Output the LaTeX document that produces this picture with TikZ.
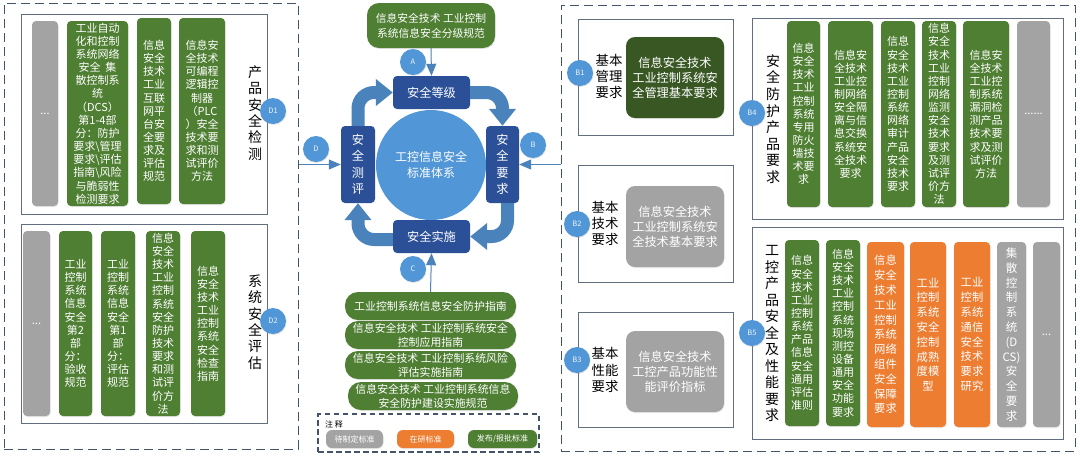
\documentclass[tikz,border=0pt]{standalone}
\usepackage{fontspec}
\setmainfont{Noto Sans CJK SC}
\usetikzlibrary{arrows.meta,shadows,calc}
\definecolor{gn}{HTML}{4F7F33}
\definecolor{dgn}{HTML}{385723}
\definecolor{gy}{HTML}{A3A3A3}
\definecolor{or}{HTML}{ED7D31}
\definecolor{dbl}{HTML}{2B5097}
\definecolor{mbl}{HTML}{5196D6}
\definecolor{abl}{HTML}{4A83BC}
\definecolor{frame}{HTML}{44546A}
\tikzset{
 card/.style={rounded corners=4pt,inner sep=0pt,align=center,text=white,
   font=\fontsize{11}{13.15}\selectfont,
   drop shadow={shadow xshift=0.6pt,shadow yshift=-1pt,opacity=.18}},
 greencard/.style={card,fill=gn},
 darkcard/.style={card,fill=dgn,rounded corners=9pt,font=\fontsize{12.2}{15}\selectfont},
 graycard/.style={card,fill=gy},
 orangecard/.style={card,fill=or,font=\fontsize{11.3}{14.8}\selectfont},
 greybig/.style={card,fill=gy,rounded corners=9pt,font=\fontsize{12.2}{15}\selectfont},
 stdpill/.style={card,fill=gn,rounded corners=13pt,font=\fontsize{10.9}{14.2}\selectfont},
 stdtop/.style={stdpill,rounded corners=12pt,font=\fontsize{10.8}{15}\selectfont},
 legpill/.style={card,rounded corners=6pt,font=\fontsize{8}{9}\selectfont},
 phase/.style={rounded corners=4pt,fill=dbl,inner sep=0pt,align=center,text=white,font=\fontsize{12.2}{16.5}\selectfont},
 outer/.style={draw=frame,line width=1pt,dash pattern=on 9pt off 5pt,inner sep=0pt},
 legframe/.style={draw=frame,line width=1.3pt,dash pattern=on 5.5pt off 3.5pt,inner sep=0pt},
 inner/.style={draw=frame!85,line width=0.8pt,fill=white,inner sep=0pt},
 hlabel/.style={align=center,text=black,inner sep=0pt,font=\fontsize{14}{16.4}\selectfont},
 blabel/.style={align=center,text=black,inner sep=0pt,font=\fontsize{13.4}{16.2}\selectfont},
 badge/.style={circle,fill=mbl,minimum size=26pt,inner sep=0pt,text=white!90!mbl,font=\fontsize{7.5}{9}\selectfont,
   drop shadow={shadow xshift=0.6pt,shadow yshift=-1pt,opacity=.2}},
 bigarrow/.style={draw=abl,line width=13pt,rounded corners=16pt,-{Triangle[width=26pt,length=17pt]}},
 feed/.style={draw=abl,line width=1pt,-{Triangle[width=10pt,length=12pt]}},
}
% name, style, x1, y1, x2, y2, text
\newcommand{\bx}[7]{\node[#2,minimum width={(#5-#3)*1pt},minimum height={(#6-#4)*1pt}] (#1) at ({(#3+#5)/2},{-(#4+#6)/2}) {#7};}
\begin{document}
\begin{tikzpicture}[x=1pt,y=1pt]
\useasboundingbox (0,0) rectangle (1080,-459);
\fill[white] (0,0) rectangle (1080,-459);
% outer frames
\bx{leftOuter}{outer}{4}{3}{298}{449}{}
\bx{rightOuter}{outer}{561}{5}{1075}{451}{}
\bx{legend}{legframe}{318}{414}{539}{452}{}
% D1
\bx{d1box}{inner}{21}{14}{267}{214}{}
\bx{d1a}{graycard}{32}{21}{58}{206}{...}
\bx{d1b}{greencard}{67}{21}{128}{206}{工业自动\\化和控制\\系统网络\\安全\ \ 集\\散控制系\\统\\（DCS）\\第1-4部\\分：防护\\要求\textbackslash 管理\\要求\textbackslash 评估\\指南\textbackslash 风险\\与脆弱性\\检测要求}
\bx{d1c}{greencard}{137}{18}{171}{204}{信息\\安全\\技术\\工业\\互联\\网平\\台安\\全要\\求及\\评估\\规范}
\bx{d1d}{greencard}{179}{18}{225}{204}{信息安\\全技术\\可编程\\逻辑控\\制器\\（PLC\\）安全\\技术要\\求和测\\试评价\\方法}
\node[hlabel] (d1lab) at (255,-113) {产\\品\\安\\全\\检\\测};
% D2
\bx{d2box}{inner}{21}{224}{267}{423}{}
\bx{d2a}{graycard}{23}{231}{50}{416}{...}
\bx{d2b}{greencard}{59}{231}{92}{416}{工业\\控制\\系统\\信息\\安全\\第2\\部\\分：\\验收\\规范}
\bx{d2c}{greencard}{101}{231}{135}{416}{工业\\控制\\系统\\信息\\安全\\第1\\部\\分：\\评估\\规范}
\bx{d2d}{greencard}{146}{231}{180}{416}{信息\\安全\\技术\\工业\\控制\\系统\\安全\\防护\\技术\\要求\\和测\\试评\\价方\\法}
\bx{d2e}{greencard}{191}{231}{225}{416}{信息\\安全\\技术\\工业\\控制\\系统\\安全\\检查\\指南}
\node[hlabel] (d2lab) at (255,-322) {系\\统\\安\\全\\评\\估};
% centre
\node[circle,fill=mbl,minimum size=110pt,inner sep=0pt,align=center,text=white,font=\fontsize{12}{16}\selectfont] (core) at (431,-165) {工控信息安全\\标准体系};
\bx{lvl}{phase}{393}{76}{470}{109}{安全等级}
\bx{req}{phase}{486}{126}{519}{203}{安\\全\\要\\求}
\bx{impl}{phase}{393}{220}{470}{253}{安全实施}
\bx{asm}{phase}{341}{126}{375}{203}{安\\全\\测\\评}
\draw[bigarrow] (lvl.east) -| (req.north);
\draw[bigarrow] ([yshift=0pt]asm.north) |- (lvl.west);
\draw[bigarrow] ([xshift=5pt]req.south) |- (impl.east);
\draw[bigarrow] ([yshift=-3pt]impl.west) -| (asm.south);
\bx{stdA}{stdtop}{367}{3}{495}{48}{信息安全技术 工业控制\\系统信息安全分级规范}
\bx{p1}{stdpill}{345}{292}{516}{320}{工业控制系统信息安全防护指南}
\bx{p2}{stdpill}{345}{321}{516}{349}{信息安全技术 工业控制系统安全\\控制应用指南}
\bx{p3}{stdpill}{345}{351}{516}{379}{信息安全技术 工业控制系统风险\\评估实施指南}
\bx{p4}{stdpill}{348}{382}{518}{410}{信息安全技术 工业控制系统信息\\安全防护建设实施规范}
\draw[feed] (stdA.south) -- (lvl.north);
\draw[feed] (p1.north) -- (impl.south);
\draw[feed] (leftOuter.east |- asm.west) -- (asm.west);
\draw[feed] (rightOuter.west |- req.east) -- (req.east);
% legend
\node[inner sep=0pt,font=\fontsize{8}{9}\selectfont,text=black] (legT) at (334,-424) {注 释};
\bx{leg1}{legpill,fill=gy}{326}{430}{383}{448}{待制定标准}
\bx{leg2}{legpill,fill=or}{397}{430}{454}{448}{在研标准}
\bx{leg3}{legpill,fill=gn}{468}{430}{537}{448}{发布/报批标准}
% B1-3
\bx{b1box}{inner}{578}{19}{733}{135}{}
\bx{b1c}{darkcard}{626}{37}{724}{118}{信息安全技术\\工业控制系统安\\全管理基本要求}
\node[blabel] (b1lab) at (609,-76.5) {基本\\管理\\要求};
\bx{b2box}{inner}{578}{165}{733}{282}{}
\bx{b2c}{greybig}{626}{186}{724}{267}{信息安全技术\\工业控制系统安\\全技术基本要求}
\node[blabel] (b2lab) at (605,-223.5) {基本\\技术\\要求};
\bx{b3box}{inner}{578}{312}{733}{427}{}
\bx{b3c}{greybig}{626}{331}{724}{412}{信息安全技术\\工控产品功能性\\能评价指标}
\node[blabel] (b3lab) at (605,-370) {基本\\性能\\要求};
% B4
\bx{b4box}{inner}{752}{18}{1063}{219}{}
\bx{b4a}{greencard}{787}{21}{820}{207}{信息\\安全\\技术\\工业\\控制\\系统\\专用\\防火\\墙技\\术要\\求}
\bx{b4b}{greencard}{828}{21}{873}{207}{信息安\\全技术\\工业控\\制网络\\安全隔\\离与信\\息交换\\系统安\\全技术\\要求}
\bx{b4c}{greencard}{881}{21}{915}{207}{信息\\安全\\技术\\工业\\控制\\系统\\网络\\审计\\产品\\安全\\技术\\要求}
\bx{b4d}{greencard}{922}{21}{956}{207}{信息\\安全\\技术\\工业\\控制\\网络\\监测\\安全\\技术\\要求\\及测\\试评\\价方\\法}
\bx{b4e}{greencard}{963}{21}{1009}{207}{信息安\\全技术\\工业控\\制系统\\漏洞检\\测产品\\技术要\\求及测\\试评价\\方法}
\bx{b4f}{graycard}{1017}{21}{1050}{207}{......}
\node[hlabel,font=\fontsize{14}{16.6}\selectfont] (b4lab) at (773,-119) {安\\全\\防\\护\\产\\品\\要\\求};
% B5
\bx{b5box}{inner}{752}{227}{1063}{439}{}
\bx{b5a}{greencard}{785}{240}{819}{426}{信息\\安全\\技术\\工业\\控制\\系统\\产品\\信息\\安全\\通用\\评估\\准则}
\bx{b5b}{greencard}{826}{240}{860}{426}{信息\\安全\\技术\\工业\\控制\\系统\\现场\\测控\\设备\\通用\\安全\\功能\\要求}
\bx{b5c}{orangecard}{867}{242}{904}{427}{信息\\安全\\技术\\工业\\控制\\系统\\网络\\组件\\安全\\保障\\要求}
\bx{b5d}{orangecard}{910}{242}{946}{427}{工业\\控制\\系统\\安全\\控制\\成熟\\度模\\型}
\bx{b5e}{orangecard}{954}{242}{990}{427}{工业\\控制\\系统\\通信\\安全\\技术\\要求\\研究}
\bx{b5f}{graycard,font=\fontsize{11.5}{14.8}\selectfont}{997}{242}{1026}{427}{集\\散\\控\\制\\系\\统\\(D\\CS)\\安\\全\\要\\求}
\bx{b5g}{graycard}{1033}{242}{1060}{427}{...}
\node[hlabel,font=\fontsize{14}{16.5}\selectfont] (b5lab) at (772,-333.5) {工\\控\\产\\品\\安\\全\\及\\性\\能\\要\\求};
% badges
\node[badge] (bA) at (413,-62) {A};
\node[badge] (bB) at (533,-145) {B};
\node[badge] (bC) at (413,-269) {C};
\node[badge] (bD) at (316,-149) {D};
\node[badge] (bD1) at (273,-111) {D1};
\node[badge] (bD2) at (273,-321) {D2};
\node[badge] (bB1) at (580,-73) {B1};
\node[badge] (bB2) at (577,-224) {B2};
\node[badge] (bB3) at (577,-360) {B3};
\node[badge] (bB4) at (752,-113) {B4};
\node[badge] (bB5) at (752,-333) {B5};
\end{tikzpicture}
\end{document}
